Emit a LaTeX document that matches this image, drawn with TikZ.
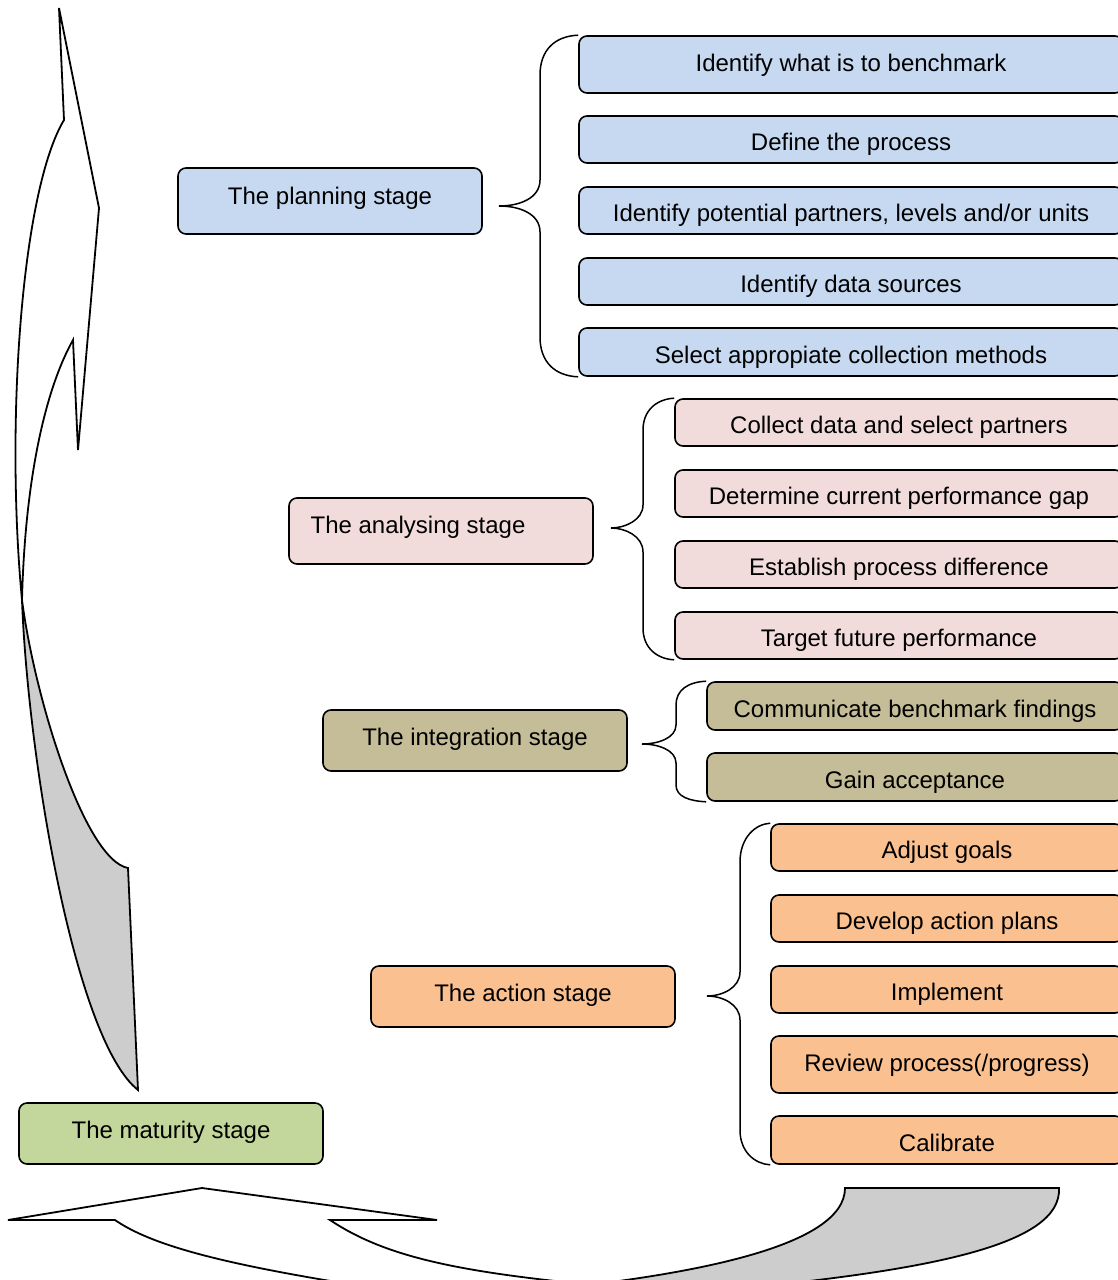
\documentclass[tikz,border=0pt]{standalone}
\usepackage{fontspec}
\setmainfont{Liberation Sans}
\definecolor{cBlue}{HTML}{C6D9F1}
\definecolor{cPink}{HTML}{F2DCDB}
\definecolor{cTan}{HTML}{C4BD97}
\definecolor{cOrange}{HTML}{FAC090}
\definecolor{cGreen}{HTML}{C3D69B}
\definecolor{cGrey}{HTML}{CDCDCD}
\begin{document}
\begin{tikzpicture}[x=0.5pt,y=-0.5pt,
  box/.style={draw=black, line width=0.8pt, rounded corners=4pt,
    font=\fontsize{12}{14}\selectfont, inner sep=0pt, align=center, text depth=0pt},
  wh/.style 2 args={minimum width=#1*0.5pt, minimum height=#2*0.5pt},
  subtxt/.style={text height=11.2pt},
  tallsub/.style={text height=6.5pt},
  planbox/.style={box, fill=cBlue},
  anabox/.style={box, fill=cPink},
  intbox/.style={box, fill=cTan},
  actbox/.style={box, fill=cOrange},
  matbox/.style={box, fill=cGreen},
  brc/.style={draw=black, line width=0.75pt},
  shape3d/.style={draw=black, line width=0.9pt, line join=miter}]
\useasboundingbox (0,0) rectangle (1118,1280);
\clip (0,0) rectangle (1118,1280);

% ---- left curved arrow (up) ----
\fill[cGrey, shape3d] (22,600) .. controls (35,700) and (85,860) .. (128,868)
  -- (138,1090) .. controls (75,1040) and (28,760) .. (22,600) -- cycle;
\fill[white, shape3d] (64,120) -- (59,8) -- (99,208) -- (78,450) -- (73,340)
  .. controls (45,390) and (25,480) .. (22,600)
  .. controls (5,420) and (22,190) .. (64,120) -- cycle;

% ---- bottom curved arrow ----
\fill[cGrey, shape3d] (845,1188) -- (1059,1188)
  .. controls (1062,1245) and (930,1272) .. (700,1292) -- (420,1300)
  .. controls (700,1282) and (845,1245) .. (845,1188) -- cycle;
\fill[white, shape3d] (115,1220) -- (8,1220) -- (202,1188) -- (437,1220) -- (330,1220)
  .. controls (390,1260) and (470,1275) .. (650,1290) -- (600,1320)
  .. controls (300,1280) and (170,1258) .. (115,1220) -- cycle;

% ---- planning ----
\node[planbox, wh={304}{66}, text height=3.5pt] (plan) at (330,201) {The planning stage};
\node[planbox, wh={544}{57}, tallsub] (p1) at (851,64.5) {Identify what is to benchmark};
\node[planbox, wh={544}{47}, subtxt] (p2) at (851,139.5) {Define the process};
\node[planbox, wh={544}{47}, subtxt] (p3) at (851,210.5) {Identify potential partners, levels and/or units};
\node[planbox, wh={544}{47}, subtxt] (p4) at (851,281.5) {Identify data sources};
\node[planbox, wh={544}{48}, subtxt] (p5) at (851,352) {Select appropiate collection methods};
\coordinate (tipP) at (499,206);
\draw[brc] (p1.north west) .. controls (555,36) and (540,50) .. (540,75) -- (540,180)
  .. controls (540,198) and (520,206) .. (tipP)
  .. controls (520,206) and (540,214) .. (540,232) -- (540,337)
  .. controls (540,362) and (555,376) .. (p5.south west);

% ---- analysing ----
\node[anabox, wh={304}{66}, text height=2.5pt] (ana) at (441,531) {The analysing stage\kern 23pt};
\node[anabox, wh={448}{47}, subtxt] (a1) at (899,422.5) {Collect data and select partners};
\node[anabox, wh={448}{47}, subtxt] (a2) at (899,493.5) {Determine current performance gap};
\node[anabox, wh={448}{47}, subtxt] (a3) at (899,564.5) {Establish process difference};
\node[anabox, wh={448}{47}, subtxt] (a4) at (899,635.5) {Target future performance};
\coordinate (tipA) at (611,528);
\draw[brc] (a1.north west) .. controls (657,399) and (643,410) .. (643,430) -- (643,505)
  .. controls (643,520) and (625,528) .. (tipA)
  .. controls (625,528) and (643,536) .. (643,552) -- (643,628)
  .. controls (643,648) and (657,659) .. (a4.south west);

% ---- integration ----
\node[intbox, wh={304}{61}, text height=5pt] (int) at (475,740.5) {The integration stage};
\node[intbox, wh={416}{48}, subtxt] (i1) at (915,706) {Communicate benchmark findings};
\node[intbox, wh={416}{48}, subtxt] (i2) at (915,777) {Gain acceptance};
\coordinate (tipI) at (642,744);
\draw[brc] (i1.north west) .. controls (688,682) and (676,690) .. (676,705) -- (676,725)
  .. controls (676,738) and (658,744) .. (tipI)
  .. controls (658,744) and (676,750) .. (676,763) -- (676,785)
  .. controls (676,797) and (690,801) .. (i2.south west);

% ---- action ----
\node[actbox, wh={304}{61}, text height=5pt] (act) at (523,996.5) {The action stage};
\node[actbox, wh={352}{47}, subtxt] (c1) at (947,847.5) {Adjust goals};
\node[actbox, wh={352}{47}, subtxt] (c2) at (947,918.5) {Develop action plans};
\node[actbox, wh={352}{47}, subtxt] (c3) at (947,989.5) {Implement};
\node[actbox, wh={352}{57}, tallsub] (c4) at (947,1064.5) {Review process(/progress)};
\node[actbox, wh={352}{48}, subtxt] (c5) at (947,1140) {Calibrate};
\coordinate (tipC) at (707,996);
\draw[brc] (c1.north west) .. controls (755,824) and (740,838) .. (740,862) -- (740,972)
  .. controls (740,988) and (722,996) .. (tipC)
  .. controls (722,996) and (740,1004) .. (740,1020) -- (740,1130)
  .. controls (740,1152) and (755,1164) .. (c5.south west);

% ---- maturity ----
\node[matbox, wh={304}{61}, text height=5pt] (mat) at (171,1133.5) {The maturity stage};
\end{tikzpicture}
\end{document}
